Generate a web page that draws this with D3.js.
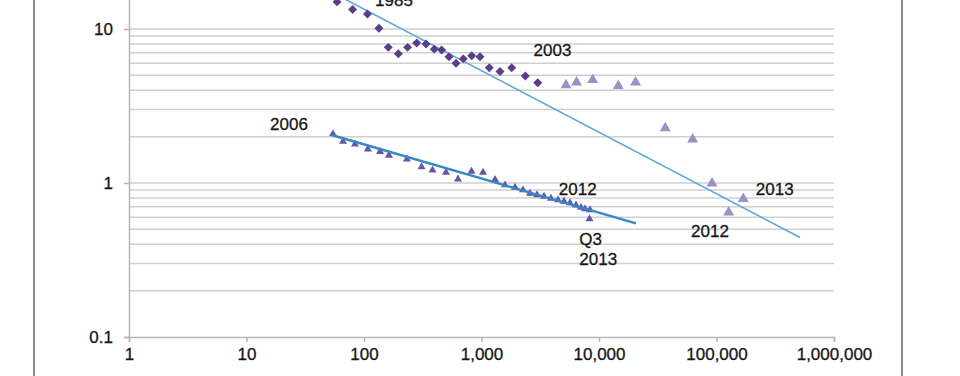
<!DOCTYPE html>
<html>
<head>
<meta charset="utf-8">
<script src="https://cdn.jsdelivr.net/npm/d3@7.9.0/dist/d3.min.js"></script>
<style>
  body { margin: 0; background: #fff; }
  svg { display: block; font-family: "Liberation Sans", Arial, sans-serif; }
</style>
</head>
<body>
<svg id="chart" width="960" height="376"></svg>
<script>
// diamonds: 1985 -> 2003
const diamondX = [59, 80, 107, 134, 161, 196, 235, 281, 337, 396, 458, 529, 607, 700, 826, 971, 1165, 1437, 1807, 2360, 3008];
const diamondY = [15.0, 13.4, 12.5, 10.1, 7.6, 6.9, 7.6, 8.1, 8.0, 7.4, 7.3, 6.6, 6.0, 6.4, 6.7, 6.6, 5.6, 5.3, 5.6, 4.95, 4.48];

// light triangles: after 2003 -> 2013
const lightX = [5240, 6440, 8840, 14600, 20460, 36650, 62700, 91600, 127000, 169000];
const lightY = [4.33, 4.51, 4.67, 4.27, 4.51, 2.27, 1.92, 0.995, 0.646, 0.79];

// blue triangles: 2006 -> Q3 2013
const blueX = [54.5, 66.3, 83.8, 108, 137, 163, 232, 309, 383, 499, 631, 822, 1030, 1304, 1585, 1929, 2254, 2586, 2967, 3404, 3903, 4477, 5036, 5665, 6373, 7031, 7600, 8380, 8300];
const blueY = [2.08, 1.86, 1.79, 1.66, 1.60, 1.51, 1.43, 1.27, 1.21, 1.17, 1.06, 1.19, 1.17, 1.05, 0.97, 0.935, 0.90, 0.855, 0.836, 0.817, 0.793, 0.776, 0.759, 0.742, 0.719, 0.693, 0.678, 0.668, 0.584];

// power-law trend lines (end points)
const trendUpperX = [20, 514000];
const trendUpperY = [25.6, 0.443];
const trendLowerX = [53.1, 20650];
const trendLowerY = [2.05, 0.547];

const xTicks = [1, 10, 100, 1000, 10000, 100000, 1000000];
const yTicks = [0.1, 1, 10];

// annotations
const labelText = ["1985", "2003", "2006", "2012", "Q3", "2013", "2012", "2013"];
const labelX = [180, 4020, 23, 6590, 6800, 6800, 88100, 313000];
const labelY = [14.2, 6.68, 2.21, 0.836, 0.396, 0.292, 0.444, 0.836];
const labelAnchor = ["middle", "middle", "middle", "middle", "start", "start", "middle", "middle"];

const svg = d3.select("#chart");

const x = d3.scaleLog().domain([1, 1000000]).range([129, 834]);
const y = d3.scaleLog().domain([0.1, 100]).range([337, -125]);

// outer frame
svg.append("line").attr("x1", 34).attr("x2", 34).attr("y1", 0).attr("y2", 376)
  .attr("stroke", "#8a8a8a").attr("stroke-width", 2);
svg.append("line").attr("x1", 902).attr("x2", 902).attr("y1", 0).attr("y2", 376)
  .attr("stroke", "#8a8a8a").attr("stroke-width", 2);

// gridlines
svg.append("g").selectAll("line")
  .data(y.ticks().filter(d => d > 0.1))
  .join("line")
  .attr("x1", x(1)).attr("x2", x(1000000))
  .attr("y1", d => y(d)).attr("y2", d => y(d))
  .attr("stroke", "#cfcfcf").attr("stroke-width", 1.5);

// axes
const xAxis = svg.append("g")
  .attr("transform", `translate(0,${y(0.1)})`)
  .call(d3.axisBottom(x).tickValues(xTicks).tickFormat(d3.format(",")).tickSize(5).tickPadding(6));
const yAxis = svg.append("g")
  .attr("transform", `translate(${x(1)},0)`)
  .call(d3.axisLeft(y).tickValues(yTicks).tickFormat(d3.format("~g")).tickSize(5).tickPadding(11));

[xAxis, yAxis].forEach(a => {
  a.select(".domain").attr("stroke", "#b5b5b5").attr("stroke-width", 1.5);
  a.selectAll(".tick line").attr("stroke", "#b5b5b5").attr("stroke-width", 1.5);
  a.selectAll("text").attr("fill", "#161616").attr("stroke", "#161616").attr("stroke-width", 0.3)
    .style("font-size", "17px");
});

// trend lines
const line = d3.line().x(d => x(d[0])).y(d => y(d[1]));
svg.append("path")
  .attr("d", line(d3.zip(trendUpperX, trendUpperY)))
  .attr("fill", "none").attr("stroke", "#5aa9d8").attr("stroke-width", 1.6);

// diamonds
svg.append("g").selectAll("path")
  .data(d3.zip(diamondX, diamondY))
  .join("path")
  .attr("d", d3.symbol(d3.symbolSquare, 40))
  .attr("transform", d => `translate(${x(d[0])},${y(d[1])}) rotate(45)`)
  .attr("fill", "#5b3d8c");

// light triangles
svg.append("g").selectAll("path")
  .data(d3.zip(lightX, lightY))
  .join("path")
  .attr("d", d3.symbol(d3.symbolTriangle, 52))
  .attr("transform", d => `translate(${x(d[0])},${y(d[1])})`)
  .attr("fill", "#9d90c2");

// blue triangles
svg.append("g").selectAll("path")
  .data(d3.zip(blueX, blueY))
  .join("path")
  .attr("d", d3.symbol(d3.symbolTriangle, 28))
  .attr("transform", d => `translate(${x(d[0])},${y(d[1])})`)
  .attr("fill", "#6656ab");

svg.append("path")
  .attr("d", line(d3.zip(trendLowerX, trendLowerY)))
  .attr("fill", "none").attr("stroke", "#3589c2").attr("stroke-width", 2.4);

// annotations
svg.append("g").selectAll("text")
  .data(labelText)
  .join("text")
  .attr("x", (d, i) => x(labelX[i]))
  .attr("y", (d, i) => y(labelY[i]))
  .attr("text-anchor", (d, i) => labelAnchor[i])
  .attr("fill", "#161616")
  .attr("stroke", "#161616")
  .attr("stroke-width", 0.3)
  .style("font-size", "17px")
  .text(d => d);
</script>
</body>
</html>
